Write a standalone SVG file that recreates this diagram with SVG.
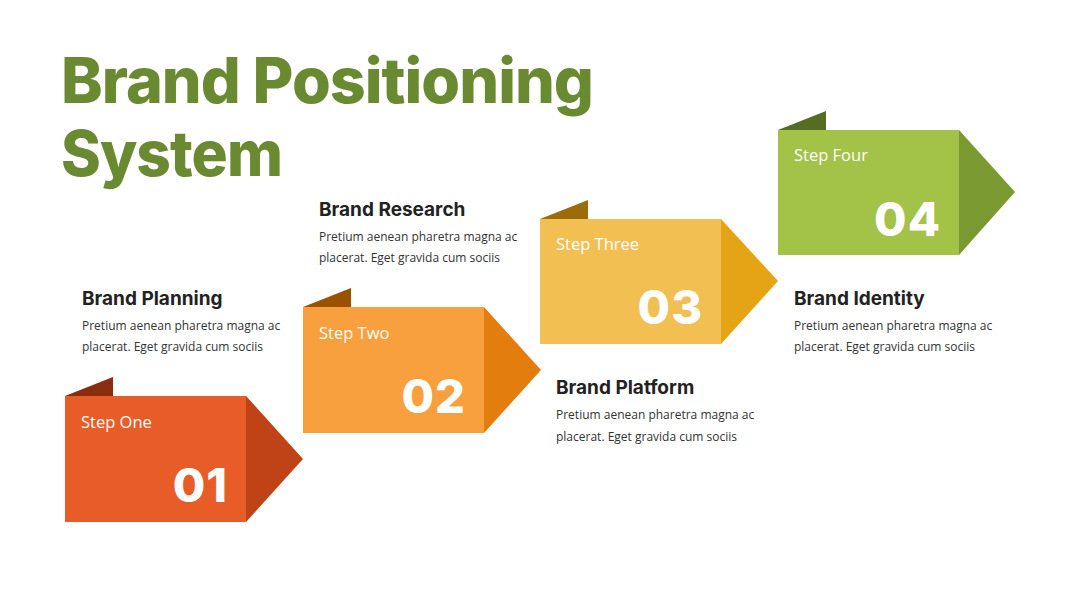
<svg xmlns="http://www.w3.org/2000/svg" width="1080" height="608" viewBox="0 0 1080 608">
<style>
.title{font-family:Inter,"Liberation Sans",sans-serif;font-weight:800;font-size:63px;fill:#6A8A32;letter-spacing:-1px}
.step{font-family:"Open Sans","Liberation Sans",sans-serif;font-size:16.5px;fill:#FFFFFF}
.num{font-family:Inter,"Liberation Sans",sans-serif;font-weight:800;font-size:47px;fill:#FFFFFF;text-anchor:end;letter-spacing:1px}
.head{font-family:Inter,"Liberation Sans",sans-serif;font-weight:700;font-size:19px;fill:#222222}
.body{font-family:"Open Sans","Liberation Sans",sans-serif;font-size:12px;fill:#333333}
</style>
<rect width="1080" height="608" fill="#FFFFFF"/>
<g id="title">
<text class="title" x="61" y="103" textLength="532" lengthAdjust="spacingAndGlyphs">Brand Positioning</text>
<text class="title" x="61" y="176" textLength="221" lengthAdjust="spacingAndGlyphs">System</text>
</g>
<g id="step1">
<polygon points="65,396 113,377 113,396" fill="#8A2D0E"/>
<rect x="65" y="396" width="181" height="126" fill="#E85D27"/>
<polygon points="246,396 303,459 246,522" fill="#BF4317"/>
<text class="step" x="81" y="428">Step One</text>
<text class="num" x="228" y="502">01</text>
</g>
<g id="step2">
<polygon points="303,307 351,288 351,307" fill="#9A5200"/>
<rect x="303" y="307" width="181" height="126" fill="#F7A03D"/>
<polygon points="484,307 541,370 484,433" fill="#E37D0D"/>
<text class="step" x="319" y="339">Step Two</text>
<text class="num" x="466" y="413">02</text>
</g>
<g id="step3">
<polygon points="540,219 588,200 588,219" fill="#9B6C0A"/>
<rect x="540" y="219" width="181" height="125" fill="#F2BF52"/>
<polygon points="721,219 778,281 721,344" fill="#E5A416"/>
<text class="step" x="556" y="250">Step Three</text>
<text class="num" x="703" y="324">03</text>
</g>
<g id="step4">
<polygon points="778,130 826,111 826,130" fill="#566C22"/>
<rect x="778" y="130" width="181" height="125" fill="#A3C248"/>
<polygon points="959,130 1015,192 959,255" fill="#7A9A31"/>
<text class="step" x="794" y="161">Step Four</text>
<text class="num" x="941" y="236">04</text>
</g>
<g id="desc1">
<text class="head" x="82" y="305">Brand Planning</text>
<text class="body" x="82" y="330">Pretium aenean pharetra magna ac</text>
<text class="body" x="82" y="351">placerat. Eget gravida cum sociis</text>
</g>
<g id="desc2">
<text class="head" x="319" y="216">Brand Research</text>
<text class="body" x="319" y="241">Pretium aenean pharetra magna ac</text>
<text class="body" x="319" y="262">placerat. Eget gravida cum sociis</text>
</g>
<g id="desc3">
<text class="head" x="556" y="394">Brand Platform</text>
<text class="body" x="556" y="419">Pretium aenean pharetra magna ac</text>
<text class="body" x="556" y="441">placerat. Eget gravida cum sociis</text>
</g>
<g id="desc4">
<text class="head" x="794" y="305">Brand Identity</text>
<text class="body" x="794" y="330">Pretium aenean pharetra magna ac</text>
<text class="body" x="794" y="351">placerat. Eget gravida cum sociis</text>
</g>
<g id="connectors"></g>
</svg>
